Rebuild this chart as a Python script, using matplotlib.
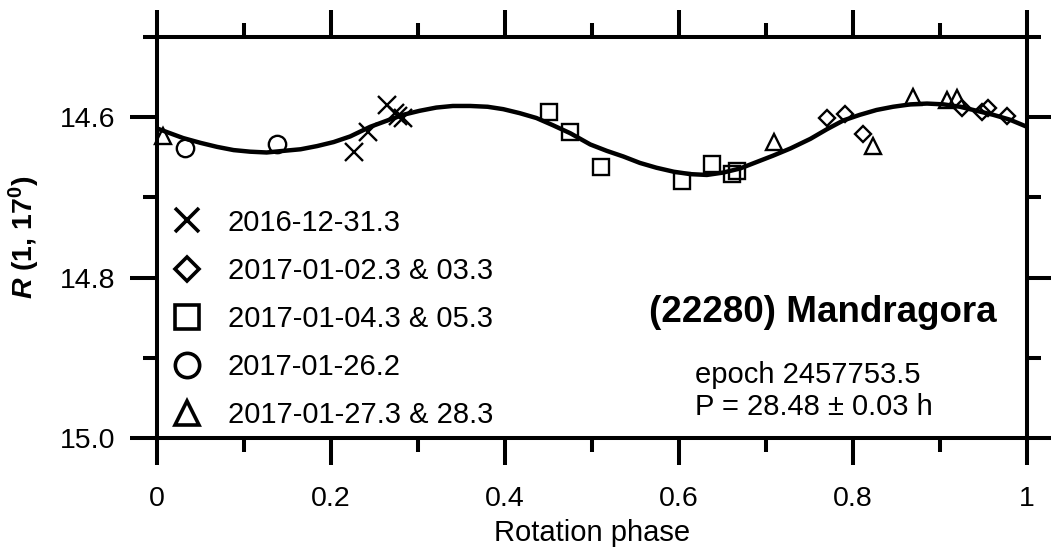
import matplotlib.pyplot as plt
from matplotlib.ticker import FixedLocator
from matplotlib.lines import Line2D

plt.rcParams['font.family'] = ['Liberation Sans', 'DejaVu Sans']
plt.rcParams['mathtext.fontset'] = 'custom'
plt.rcParams['mathtext.rm'] = 'Liberation Sans:bold'
plt.rcParams['mathtext.it'] = 'Liberation Sans:italic:bold'

# observations, one group per night
x_cross = [0.226, 0.243, 0.264, 0.274, 0.277, 0.283]
r_cross = [14.643, 14.618, 14.585, 14.595, 14.599, 14.601]

x_diamond = [0.770, 0.791, 0.811, 0.925, 0.948, 0.955, 0.977]
r_diamond = [14.601, 14.596, 14.621, 14.588, 14.594, 14.588, 14.598]

x_square = [0.450, 0.475, 0.510, 0.603, 0.638, 0.661, 0.667]
r_square = [14.593, 14.619, 14.662, 14.680, 14.658, 14.671, 14.667]

x_circle = [0.032, 0.138]
r_circle = [14.638, 14.633]

x_tri = [0.007, 0.709, 0.823, 0.869, 0.908, 0.919]
r_tri = [14.623, 14.631, 14.636, 14.575, 14.578, 14.576]

# fitted light curve
x_fit = [0.000, 0.030, 0.050, 0.069, 0.088, 0.107, 0.126, 0.145, 0.165, 0.184,
         0.203, 0.222, 0.245, 0.265, 0.283, 0.302, 0.321, 0.340, 0.360, 0.380,
         0.398, 0.417, 0.436, 0.455, 0.475, 0.498, 0.517, 0.536, 0.555, 0.574,
         0.594, 0.613, 0.632, 0.651, 0.670, 0.689, 0.708, 0.728, 0.751, 0.770,
         0.789, 0.808, 0.827, 0.846, 0.866, 0.885, 0.904, 0.923, 0.942, 0.961,
         0.980, 1.000]
r_fit = [14.614, 14.626, 14.632, 14.637, 14.641, 14.643, 14.644, 14.642, 14.640, 14.636,
         14.631, 14.624, 14.612, 14.604, 14.597, 14.592, 14.588, 14.586, 14.586, 14.587,
         14.590, 14.595, 14.601, 14.610, 14.620, 14.634, 14.642, 14.649, 14.657, 14.663,
         14.668, 14.671, 14.672, 14.669, 14.664, 14.656, 14.648, 14.639, 14.627, 14.615,
         14.604, 14.597, 14.591, 14.587, 14.584, 14.583, 14.584, 14.587, 14.592, 14.597,
         14.603, 14.612]

labels = ['2016-12-31.3', '2017-01-02.3 & 03.3', '2017-01-04.3 & 05.3',
          '2017-01-26.2', '2017-01-27.3 & 28.3']

x_ticks = [0, 0.2, 0.4, 0.6, 0.8, 1.0]
x_ticklabels = ['0', '0.2', '0.4', '0.6', '0.8', '1']
x_minor = [0.1, 0.3, 0.5, 0.7, 0.9]
y_ticks = [14.6, 14.8, 15.0]
y_ticklabels = ['14.6', '14.8', '15.0']
y_minor = [14.5, 14.7, 14.9]

fig = plt.figure(figsize=(10.51, 5.48), dpi=100)
ax = fig.add_axes([0.1494, 0.2007, 0.8278, 0.7318])

ax.plot(x_fit, r_fit, color='black', lw=3.2, zorder=2, solid_joinstyle='round')

ms_data = {'x': 12.5, 'D': 8.5, 's': 11.5, 'o': 12.5, '^': 12}
ms_leg = {'x': 17.5, 'D': 12.5, 's': 17.5, 'o': 17.5, '^': 17.5}
groups = [(x_cross, r_cross, 'x'), (x_diamond, r_diamond, 'D'), (x_square, r_square, 's'),
          (x_circle, r_circle, 'o'), (x_tri, r_tri, '^')]

handles = []
for (xs, rs, m), lab in zip(groups, labels):
    ax.plot(xs, rs, ls='none', marker=m, ms=ms_data[m], mfc='none', mec='black',
            mew=1.7, zorder=3, clip_on=False)
    handles.append(Line2D([], [], ls='none', marker=m, ms=ms_leg[m], mfc='none',
                          mec='black', mew=2.6, label=lab))

ax.legend(handles=handles, loc='upper left', bbox_to_anchor=(0.0178, 0.572), frameon=False,
          fontsize=21, borderpad=0, borderaxespad=0, handlelength=1.0,
          handletextpad=0.9, labelspacing=0.69)

ax.set_xlim(0, 1)
ax.set_ylim(15.0, 14.5)
ax.set_xticks(x_ticks)
ax.set_xticklabels(x_ticklabels)
ax.set_yticks(y_ticks)
ax.set_yticklabels(y_ticklabels)
ax.xaxis.set_minor_locator(FixedLocator(x_minor))
ax.yaxis.set_minor_locator(FixedLocator(y_minor))

ax.tick_params(which='both', direction='out', top=True, right=True, width=2.9, labelsize=20.5)
ax.tick_params(which='major', length=19.5)
ax.tick_params(which='minor', length=10)
ax.tick_params(axis='x', pad=15)
ax.tick_params(axis='y', pad=10.5)
for s in ax.spines.values():
    s.set_linewidth(2.9)

ax.set_xlabel('Rotation phase', fontsize=21, labelpad=5)
ax.set_ylabel(r'$\mathit{R}$ (1, 17$^\mathrm{0}$)', fontsize=20.5, fontweight='bold')
ax.yaxis.set_label_coords(-0.132, 0.5)

ax.text(0.9655, 0.289, '(22280) Mandragora', transform=ax.transAxes, ha='right',
        va='baseline', fontsize=26.5, fontweight='bold')
ax.text(0.618, 0.137, 'epoch 2457753.5', transform=ax.transAxes, ha='left',
        va='baseline', fontsize=21)
ax.text(0.618, 0.057, 'P = 28.48 \u00b1 0.03 h', transform=ax.transAxes, ha='left',
        va='baseline', fontsize=21)

fig.savefig('out.png', dpi=100)
